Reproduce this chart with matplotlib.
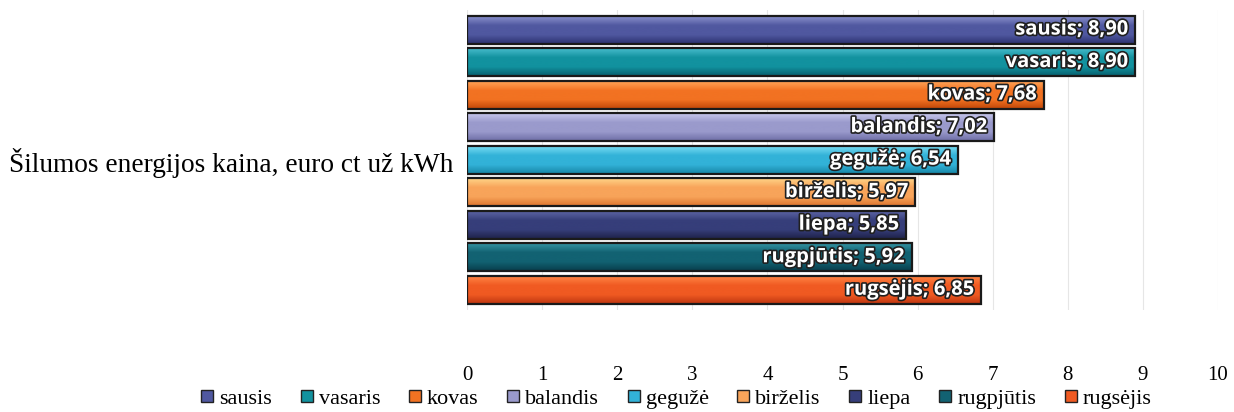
import matplotlib.pyplot as plt
import matplotlib.patheffects as pe
from matplotlib.colors import LinearSegmentedColormap
from matplotlib.lines import Line2D
import numpy as np

months = ['sausis', 'vasaris', 'kovas', 'balandis', 'gegužė', 'birželis',
          'liepa', 'rugpjūtis', 'rugsėjis']
prices = [8.90, 8.90, 7.68, 7.02, 6.54, 5.97, 5.85, 5.92, 6.85]
value_labels = ['8,90', '8,90', '7,68', '7,02', '6,54', '5,97', '5,85', '5,92', '6,85']
category = 'Šilumos energijos kaina, euro ct už kWh'

# (top highlight, middle, bottom shade) for the glossy bar look
bar_colors = [
    ('#8a90cc', '#5058a0', '#2c3270'),
    ('#48bccc', '#12929f', '#07606e'),
    ('#ffa458', '#f27222', '#c04608'),
    ('#c8c8ec', '#9a9acc', '#6e6ea6'),
    ('#78dcf2', '#32b2d8', '#1786a6'),
    ('#ffd488', '#f8a45a', '#de7630'),
    ('#5c64a4', '#363e7a', '#1e2248'),
    ('#3494a4', '#126272', '#083e4c'),
    ('#ff8444', '#f05a22', '#be3610'),
]

plt.rcParams['font.family'] = ['Liberation Serif', 'DejaVu Serif']

fig = plt.figure(figsize=(12.34, 4.12), dpi=100)
ax = fig.add_axes([0.3785, 0.2476, 0.6085, 0.728])

ypos = np.arange(len(months))
bars = ax.barh(ypos, prices, height=0.86, color='none',
               edgecolor='#1a1a1a', linewidth=1.6, zorder=3)

# gradient fill clipped to each bar
for bar, cols in zip(bars, bar_colors):
    cmap = LinearSegmentedColormap.from_list('g', [cols[0], cols[1], cols[1], cols[2]])
    grad = np.linspace(0, 1, 64).reshape(-1, 1)
    x0, y0 = bar.get_x(), bar.get_y()
    w, h = bar.get_width(), bar.get_height()
    im = ax.imshow(grad, cmap=cmap, aspect='auto', interpolation='bicubic',
                   extent=(x0, x0 + w, y0 + h, y0), zorder=2)
    im.set_clip_path(bar)

ax.set_xlim(0, 10)
ax.set_ylim(8.62, -0.6)

for bar, m, v in zip(bars, months, value_labels):
    ax.annotate(f'{m}; {v}', (bar.get_width(), bar.get_y() + bar.get_height() / 2),
                xytext=(-5, 0), textcoords='offset points', ha='right', va='center',
                color='white', fontsize=14.5, fontweight='bold',
                family=['Open Sans', 'DejaVu Sans'], zorder=5,
                path_effects=[pe.withStroke(linewidth=2.4, foreground='#202020')])

ax.set_xticks(range(0, 11))
ax.tick_params(axis='x', length=0, pad=40, labelsize=15)
ax.set_yticks([4], labels=[category])
ax.tick_params(axis='y', length=0, pad=10, labelsize=19.7)
ax.grid(axis='x', color='#e6e6e6', linewidth=0.8, zorder=0)
for s in ax.spines.values():
    s.set_visible(False)

handles = [Line2D([], [], marker='s', linestyle='none', markersize=9,
                  markerfacecolor=c[1], markeredgecolor='#222222', markeredgewidth=1.0)
           for c in bar_colors]
fig.legend(handles, months, loc='center', bbox_to_anchor=(0.547, 0.032), ncol=9,
           frameon=False, fontsize=16, handletextpad=0.15, columnspacing=1.15,
           handlelength=0.8)

fig.savefig('out.png', dpi=100)
